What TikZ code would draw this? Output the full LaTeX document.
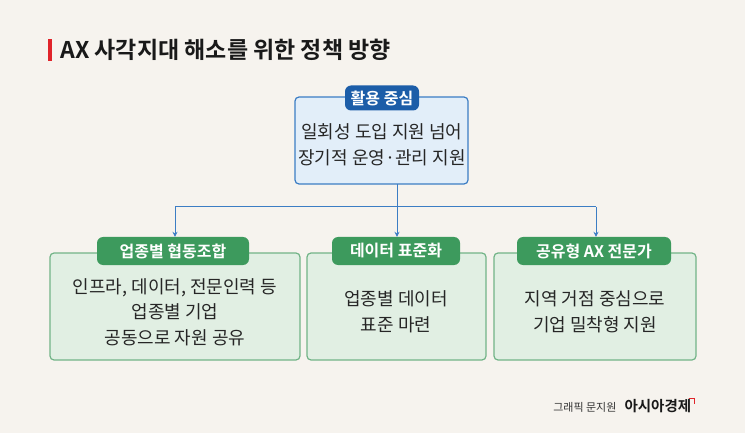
\documentclass[tikz,border=0pt]{standalone}
\usepackage{fontspec}
\usetikzlibrary{arrows.meta}
\setmainfont{Noto Sans CJK KR}
\newfontfamily\kb{Noto Sans CJK KR Bold}
\begin{document}
\begin{tikzpicture}[x=1pt,y=-1pt,
  topbox/.style={draw=blueB,fill=blueF,line width=1.2pt,rounded corners=4pt},
  botbox/.style={draw=greenB,fill=greenF,line width=1.2pt,rounded corners=4pt},
  bpill/.style={fill=blueD,rounded corners=6pt,text=white,font=\kb\fontsize{16}{17}\selectfont,inner sep=0pt},
  gpill/.style={fill=greenD,rounded corners=6pt,text=white,font=\kb\fontsize{16}{17}\selectfont,inner sep=0pt},
  body/.style={align=center,font=\fontsize{18}{25.5}\selectfont,text=black!85},
  arr/.style={draw=blueB,line width=1pt,-{Stealth[length=5pt,width=5pt]}}]
\definecolor{bg}{HTML}{F6F3EE}
\definecolor{blueB}{HTML}{3C7DC4}
\definecolor{blueF}{HTML}{E2EEF9}
\definecolor{blueD}{HTML}{1C5DA8}
\definecolor{greenB}{HTML}{72B487}
\definecolor{greenF}{HTML}{E1EFE3}
\definecolor{greenD}{HTML}{3D9A5D}
\definecolor{redC}{HTML}{E0242A}
\fill[bg] (0,0) rectangle (745,433);
\useasboundingbox (0,0) rectangle (745,433);
\fill[redC] (48,39) rectangle (52,61);
\node[anchor=west,font=\kb\fontsize{23}{24}\selectfont,text=black!90] (title) at (57,50) {AX 사각지대 해소를 위한 정책 방향};
% top
\draw[topbox] (295,97) rectangle (468,184);
\node[bpill,minimum width=74pt,minimum height=25pt] (top) at (382,98) {활용 중심};
\node[body] (tb) at (382,145) {일회성 도입 지원 넘어\\장기적 운영·관리 지원};
\coordinate (s) at (397,184);
\coordinate (j) at (397,207);
% bottom boxes
\draw[botbox] (50,253) rectangle (300,360);
\draw[botbox] (307,253) rectangle (486,360);
\draw[botbox] (494,253) rectangle (696,360);
\node[gpill,minimum width=152pt,minimum height=28pt] (p1) at (173,251) {업종별 협동조합};
\node[gpill,minimum width=128pt,minimum height=28pt] (p2) at (396,251) {데이터 표준화};
\node[gpill,minimum width=154pt,minimum height=28pt] (p3) at (594,251) {공유형 AX 전문가};
\node[body] (b1) at (175,312) {인프라, 데이터, 전문인력 등\\업종별 기업\\공동으로 자원 공유};
\node[body] (b2) at (396,312) {업종별 데이터\\표준 마련};
\node[body] (b3) at (595,312) {지역 거점 중심으로\\기업 밀착형 지원};
% connectors
\coordinate (l) at (175,207);
\coordinate (r) at (596,207);
\draw[blueB,line width=1pt] (s) -- (j) (l) -- (r);
\draw[arr] (l) -- (p1.north -| l);
\draw[arr] (j) -- (p2.north -| j);
\draw[arr] (r) -- (p3.north -| r);
% credit
\node[anchor=east,font=\fontsize{11}{12}\selectfont,text=black!80] (c1) at (620,407) {그래픽 문지원};
\node[anchor=west,font=\kb\fontsize{14.5}{15}\selectfont,text=black!90] (c2) at (621,406) {아시아경제};
\draw[redC,line width=1pt] (689,398) -- (694,398) -- (694,404);
\end{tikzpicture}
\end{document}
